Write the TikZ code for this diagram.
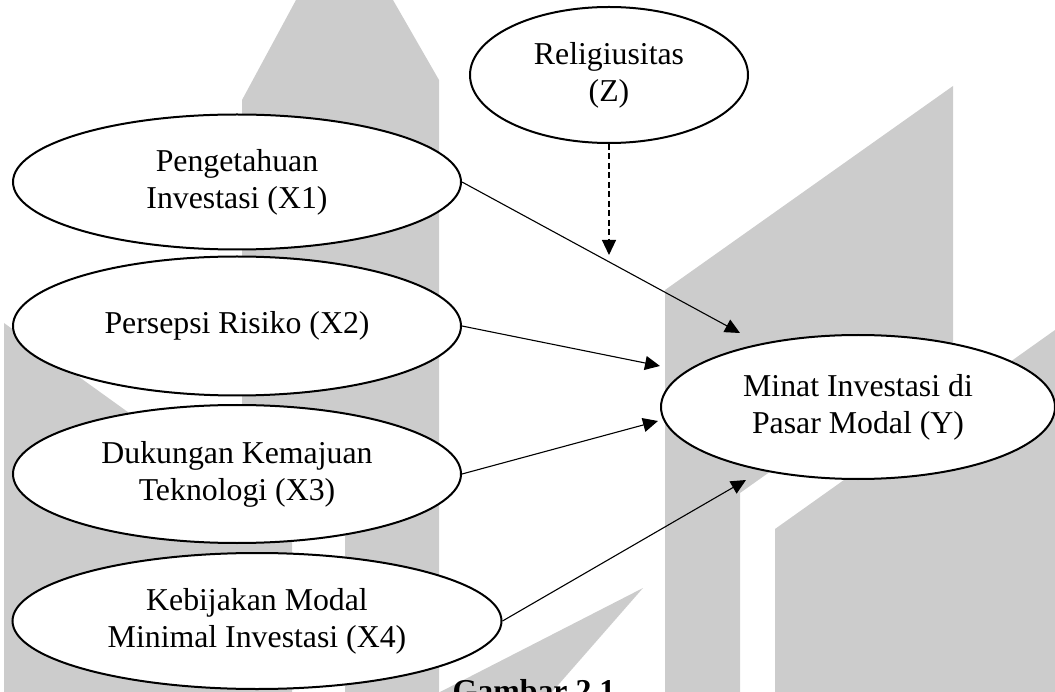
\documentclass[tikz,border=0pt]{standalone}
\usepackage{fontspec}
\setmainfont{Liberation Serif}
\usetikzlibrary{shapes.geometric,arrows.meta}
\definecolor{wm}{RGB}{204,204,204}
\begin{document}
\begin{tikzpicture}[x=1pt,y=-1pt,
  var/.style={ellipse,draw=black,line width=2pt,fill=white,inner sep=0pt,align=center,
    font=\fontsize{31.8}{37}\selectfont},
  link/.style={line width=1.1pt,-{Triangle[length=15pt,width=14pt]}},
  modlink/.style={link,dash pattern=on 6pt off 3.5pt},
]
\useasboundingbox (0,0) rectangle (1055,692);
\clip (0,0) rectangle (1055,692);
% watermark shapes
\fill[wm] (242,100) -- (296,0) -- (393,0) -- (439,80) -- (439,692) -- (345,692) -- (345,480) -- (242,480) -- cycle;
\fill[wm] (4,323) -- (292,530) -- (292,692) -- (4,692) -- cycle;
\fill[wm] (665,692) -- (665,290) -- (953,86) -- (953,342) -- (740,493) -- (740,692) -- cycle;
\fill[wm] (775,692) -- (775,529) -- (1055,330) -- (1055,692) -- cycle;
\fill[wm] (440,692) -- (643,588) -- (552,692) -- cycle;
% caption (cut off at the bottom edge)
\node[font=\bfseries\fontsize{31.8}{37}\selectfont,anchor=base,inner sep=0pt] (cap) at (534,701) {Gambar 2.1};
% variables
\node[var,minimum width=278pt,minimum height=136pt] (Z) at (609,75) {Religiusitas\\(Z)};
\node[var,minimum width=448pt,minimum height=135pt] (X1) at (237,182) {Pengetahuan\\Investasi (X1)};
\node[var,minimum width=448pt,minimum height=139pt] (X2) at (237,326) {Persepsi Risiko (X2)};
\node[var,minimum width=448pt,minimum height=138pt] (X3) at (237,474) {Dukungan Kemajuan\\Teknologi (X3)};
\node[var,minimum width=489pt,minimum height=136pt] (X4) at (257,621) {Kebijakan Modal\\Minimal Investasi (X4)};
\node[var,minimum width=394pt,minimum height=144pt] (Y) at (858,407) {Minat Investasi di\\Pasar Modal (Y)};
% arrow tips
\coordinate (t1) at (740,333);
\coordinate (tz) at (609,255);
\coordinate (t2) at (660,366);
\coordinate (t3) at (658,421);
\coordinate (t4) at (746,480);
\draw[link] (X1.east) -- (t1);
\draw[link] (X2.east) -- (t2);
\draw[link] (X3.east) -- (t3);
\draw[link] (X4.east) -- (t4);
\draw[modlink] (Z.south) -- (tz);
\end{tikzpicture}
\end{document}
